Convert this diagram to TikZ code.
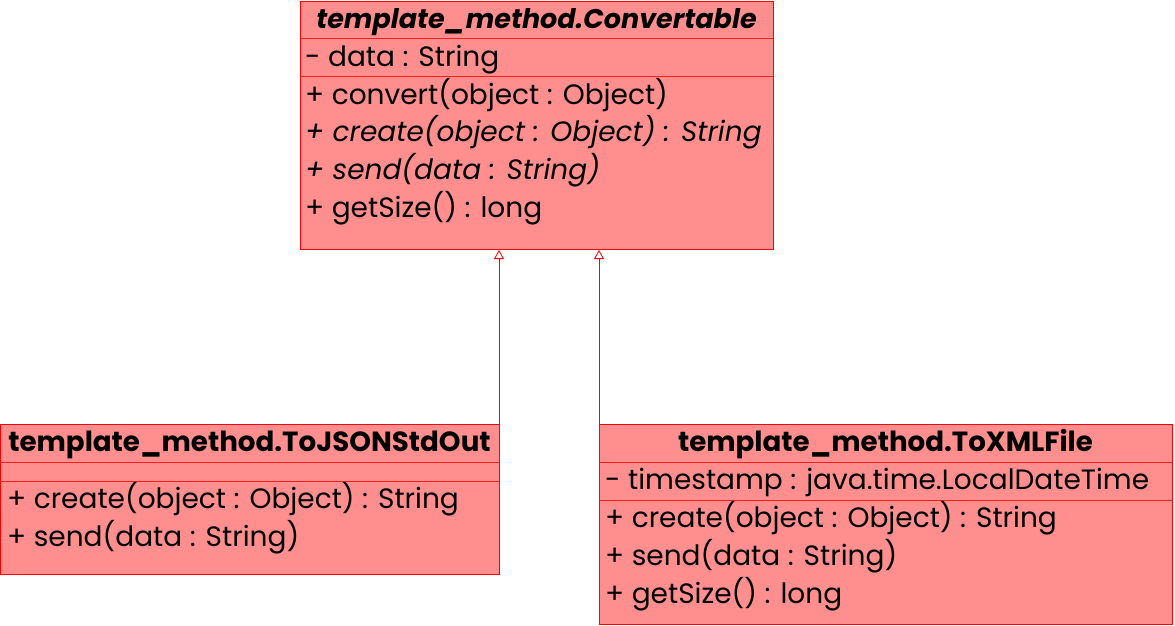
\documentclass[tikz,border=0pt]{standalone}
\usepackage{fontspec}
\setmainfont{Poppins}
\usetikzlibrary{arrows.meta}
\definecolor{boxfill}{HTML}{FF8F8F}
\definecolor{boxline}{HTML}{FF0000}
\definecolor{sepline}{HTML}{F02020}
\tikzset{
  umlbox/.style={draw=boxline, fill=boxfill, line width=1pt},
  sep/.style={draw=sepline, line width=0.8pt},
  row/.style={anchor=base west, inner sep=0pt, font=\fontsize{28}{32}\selectfont},
  titlerow/.style={anchor=base, inner sep=0pt, font=\fontsize{27.7}{32}\selectfont\bfseries},
  inherit/.style={draw=boxline, line width=0.8pt, -{Triangle[open, width=10pt, length=9pt, fill=white]}}
}
\begin{document}
\begin{tikzpicture}[x=1pt, y=-1pt]
\useasboundingbox (0,0) rectangle (1175,625);
% Convertable
\draw[umlbox] (300,1) rectangle (773,249);
\draw[sep] (300,38) -- (773,38);
\draw[sep] (300,76) -- (773,76);
\node[titlerow, font=\fontsize{27}{32}\selectfont\bfseries\itshape] (ct) at (536.5,28) {template\_method.Convertable};
\node[row] (c1) at (305,66) {- data : String};
\node[row] (c2) at (305,104) {+ convert(object : Object)};
\node[row, font=\fontsize{28}{32}\selectfont\itshape] (c3) at (305,141) {+ create(object : Object) : String};
\node[row, font=\fontsize{28}{32}\selectfont\itshape] (c4) at (305,179) {+ send(data : String)};
\node[row] (c5) at (305,217) {+ getSize() : long};
\coordinate (convL) at (499,250);
\coordinate (convR) at (599,250);
% ToJSONStdOut
\draw[umlbox] (0,424) rectangle (499,574);
\draw[sep] (0,462) -- (499,462);
\draw[sep] (0,481) -- (499,481);
\node[titlerow] (jt) at (249.5,451) {template\_method.ToJSONStdOut};
\node[row] (j1) at (7,508) {+ create(object : Object) : String};
\node[row] (j2) at (7,546) {+ send(data : String)};
\coordinate (jsonTop) at (499,424);
% ToXMLFile
\draw[umlbox] (599,424) rectangle (1172,624);
\draw[sep] (599,462) -- (1172,462);
\draw[sep] (599,500) -- (1172,500);
\node[titlerow] (xt) at (885.5,451) {template\_method.ToXMLFile};
\node[row] (x1) at (605,489) {- timestamp : java.time.LocalDateTime};
\node[row] (x2) at (605,527) {+ create(object : Object) : String};
\node[row] (x3) at (605,565) {+ send(data : String)};
\node[row] (x4) at (605,603) {+ getSize() : long};
\coordinate (xmlTop) at (599,424);
% inheritance
\draw[inherit] (jsonTop) -- (convL);
\draw[inherit] (xmlTop) -- (convR);
\end{tikzpicture}
\end{document}
